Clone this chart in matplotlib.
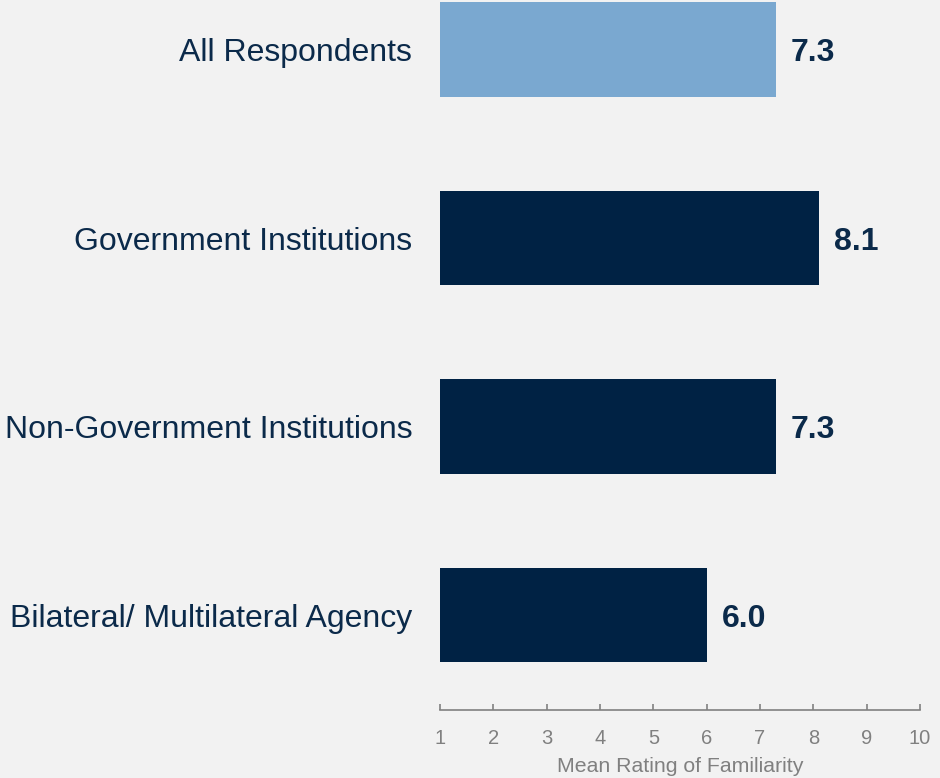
import matplotlib
matplotlib.use("Agg")
import matplotlib.pyplot as plt

plt.rcParams['font.family'] = ['Liberation Sans', 'DejaVu Sans']

categories = ["All Respondents", "Government Institutions",
              "Non-Government Institutions", "Bilateral/ Multilateral Agency"]
values = [7.3, 8.1, 7.3, 6.0]
value_labels = ["7.3", "8.1", "7.3", "6.0"]
ticks = [1, 2, 3, 4, 5, 6, 7, 8, 9, 10]

bg = "#F2F2F2"
navy = "#002244"
light = "#7AA8D0"
grey = "#808080"
text_col = "#0B2A4A"

fig = plt.figure(figsize=(9.4, 7.78), dpi=100, facecolor=bg)
ax = fig.add_axes([440 / 940, 68 / 778, 480 / 940, 710 / 778])
ax.set_facecolor(bg)

ypos = list(range(len(categories)))
colors = [light] + [navy] * (len(categories) - 1)
base = 1
ax.barh(ypos, [v - base for v in values], left=base, height=0.5,
        color=colors, edgecolor='none')

for y, v, lab in zip(ypos, values, value_labels):
    ax.text(v + 0.28, y, lab, va='center_baseline', ha='left',
            fontsize=23, fontweight='bold', color=text_col)

ax.set_xlim(1, 10)
ax.set_ylim(3.504, -0.263)
ax.set_yticks(ypos)
ax.set_yticklabels(categories, fontsize=23, color=text_col)
ax.tick_params(axis='y', length=0, pad=20)

ax.set_xticks(ticks)
ax.set_xticklabels([str(t) for t in ticks], fontsize=14.5, color=grey)
ax.tick_params(axis='x', direction='in', length=4.5, width=1.2,
               color=grey, pad=14)
ax.set_xlabel("Mean Rating of Familiarity", fontsize=15.3, color=grey,
              labelpad=6)

for s in ['top', 'right', 'left']:
    ax.spines[s].set_visible(False)
ax.spines['bottom'].set_color(grey)
ax.spines['bottom'].set_linewidth(1.2)

fig.savefig("out.png", dpi=100, facecolor=bg)
